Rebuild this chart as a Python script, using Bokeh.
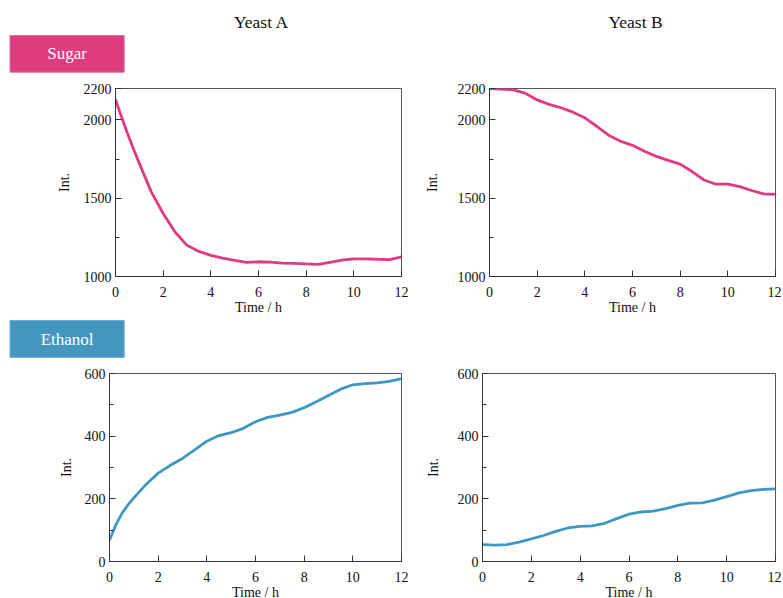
from bokeh.plotting import figure
from bokeh.layouts import column, row
from bokeh.models import Range1d, FixedTicker
from bokeh.core.properties import value
from bokeh.embed import file_html
from bokeh.resources import INLINE

# ---------------- data ----------------
col_titles = ["Yeast A", "Yeast B"]
row_titles = ["Sugar", "Ethanol"]
x_label = "Time / h"
y_label = "Int."
x_ticks = [0, 2, 4, 6, 8, 10, 12]

sugar_y_ticks = [1000, 1500, 2000, 2200]
sugar_y_minor = [1250, 1750]
ethanol_y_ticks = [0, 200, 400, 600]
ethanol_y_minor = [100, 300, 500]

sugar_a_t = [0, 0.25, 0.5, 0.75, 1, 1.5, 2, 2.5, 3, 3.5, 4, 4.5, 5, 5.5, 6, 6.5, 7,
             7.5, 8, 8.5, 9, 9.5, 10, 10.5, 11, 11.5, 12]
sugar_a = [2130, 2020, 1915, 1815, 1722, 1540, 1402, 1284, 1199, 1160, 1135, 1118, 1103,
           1090, 1094, 1092, 1086, 1084, 1080, 1078, 1090, 1104, 1113, 1113, 1110, 1108, 1125]

sugar_b_t = [0, 0.5, 1, 1.5, 2, 2.5, 3, 3.5, 4, 4.5, 5, 5.5, 6, 6.5, 7, 7.5, 8, 8.5, 9,
             9.5, 10, 10.5, 11, 11.5, 12]
sugar_b = [2200, 2196, 2191, 2170, 2127, 2099, 2077, 2049, 2013, 1959, 1902, 1863, 1837,
           1799, 1767, 1741, 1717, 1670, 1616, 1589, 1589, 1574, 1549, 1527, 1525]

ethanol_a_t = [0, 0.25, 0.5, 0.75, 1, 1.5, 2, 2.5, 3, 3.5, 4, 4.5, 5, 5.5, 6, 6.5, 7,
               7.5, 8, 8.5, 9, 9.5, 10, 10.5, 11, 11.5, 12]
ethanol_a = [68, 115, 152, 180, 203, 246, 282, 307, 329, 356, 384, 402, 411, 425, 446,
             460, 467, 476, 491, 510, 530, 550, 564, 568, 570, 575, 584]

ethanol_b_t = [0, 0.5, 1, 1.5, 2, 2.5, 3, 3.5, 4, 4.5, 5, 5.5, 6, 6.5, 7, 7.5, 8, 8.5, 9,
               9.5, 10, 10.5, 11, 11.5, 12]
ethanol_b = [54, 52, 54, 62, 72, 83, 96, 107, 112, 114, 122, 137, 151, 158, 161, 169, 179,
             186, 187, 196, 207, 219, 226, 230, 232]

# ---------------- style ----------------
FONT = "Liberation Serif"
PINK = "#dd3c7e"
PINK_EDGE = "#e66d9e"
BLUE = "#4396c0"
BLUE_EDGE = "#6fb0d2"
LINE_PINK = "#e03a80"
LINE_BLUE = "#3f97c4"
TOTAL_W = 781


def banner(height, box_top, box_bottom, fill, edge, label, titles=False):
    p = figure(frame_width=TOTAL_W, frame_height=height, x_range=Range1d(0, TOTAL_W),
               y_range=Range1d(height, 0), x_axis_type=None, y_axis_type=None,
               output_backend="svg", toolbar_location=None, min_border=0,
               outline_line_color=None)
    p.xgrid.visible = False
    p.ygrid.visible = False
    p.quad(left=[9.5], right=[123.7], top=[box_top], bottom=[box_bottom],
           fill_color=fill, line_color=edge, line_width=1)
    p.text(x=[66.6], y=[(box_top + box_bottom) / 2], text=[label],
           text_font=value(FONT), text_font_size="17px", text_color="white",
           text_align="center", text_baseline="middle")
    if titles:
        p.text(x=[261, 635], y=[21.5, 21.5], text=col_titles, text_font=value(FONT),
               text_font_size="17.5px", text_color="#111111",
               text_align="center", text_baseline="middle")
    return p


def panel(t, v, color, yr, yticks, yminor, bl, fw, br, bt, bb, label_standoff):
    p = figure(frame_width=fw, frame_height=188, x_range=Range1d(0, 12),
               y_range=Range1d(*yr), output_backend="svg", toolbar_location=None,
               min_border_left=bl, min_border_right=br, min_border_top=bt,
               min_border_bottom=bb, outline_line_color="#555555",
               outline_line_width=1)
    p.xgrid.visible = False
    p.ygrid.visible = False
    p.line(t, v, line_color=color, line_width=2.8)
    p.xaxis.ticker = FixedTicker(ticks=x_ticks)
    p.yaxis.ticker = FixedTicker(ticks=yticks, minor_ticks=yminor)
    for ax in (p.xaxis[0], p.yaxis[0]):
        ax.axis_line_color = "#333333"
        ax.major_tick_line_color = "#333333"
        ax.minor_tick_line_color = "#333333"
        ax.major_tick_in = 6
        ax.major_tick_out = 0
        ax.major_label_text_font = FONT
        ax.major_label_text_font_size = "14px"
        ax.major_label_text_color = "#111111"
        ax.axis_label_text_font = FONT
        ax.axis_label_text_font_size = "14px"
        ax.axis_label_text_font_style = "normal"
        ax.axis_label_text_color = "#111111"
    p.xaxis.minor_tick_in = 0
    p.xaxis.minor_tick_out = 0
    p.yaxis.minor_tick_in = 4
    p.yaxis.minor_tick_out = 0
    p.xaxis.axis_label = x_label
    p.yaxis.axis_label = y_label
    p.xaxis.major_label_standoff = 10
    p.xaxis.axis_label_standoff = 0
    p.yaxis.major_label_standoff = 4
    p.yaxis.axis_label_standoff = label_standoff
    return p


head = banner(80, 35, 71.7, PINK, PINK_EDGE, row_titles[0], titles=True)
sA = panel(sugar_a_t, sugar_a, LINE_PINK, (1000, 2200), sugar_y_ticks, sugar_y_minor,
           115, 286, 10, 8, 40, 9)
sB = panel(sugar_b_t, sugar_b, LINE_PINK, (1000, 2200), sugar_y_ticks, sugar_y_minor,
           78, 286, 6, 8, 40, 15)
mid = banner(49, 3, 40, BLUE, BLUE_EDGE, row_titles[1])
eA = panel(ethanol_a_t, ethanol_a, LINE_BLUE, (0, 600), ethanol_y_ticks, ethanol_y_minor,
           109, 292, 10, 7, 38, 8)
eB = panel(ethanol_b_t, ethanol_b, LINE_BLUE, (0, 600), ethanol_y_ticks, ethanol_y_minor,
           71, 293, 6, 7, 38, 14)

layout = column(head, row(sA, sB), mid, row(eA, eB))
open("out.html", "w").write(file_html(layout, INLINE))
